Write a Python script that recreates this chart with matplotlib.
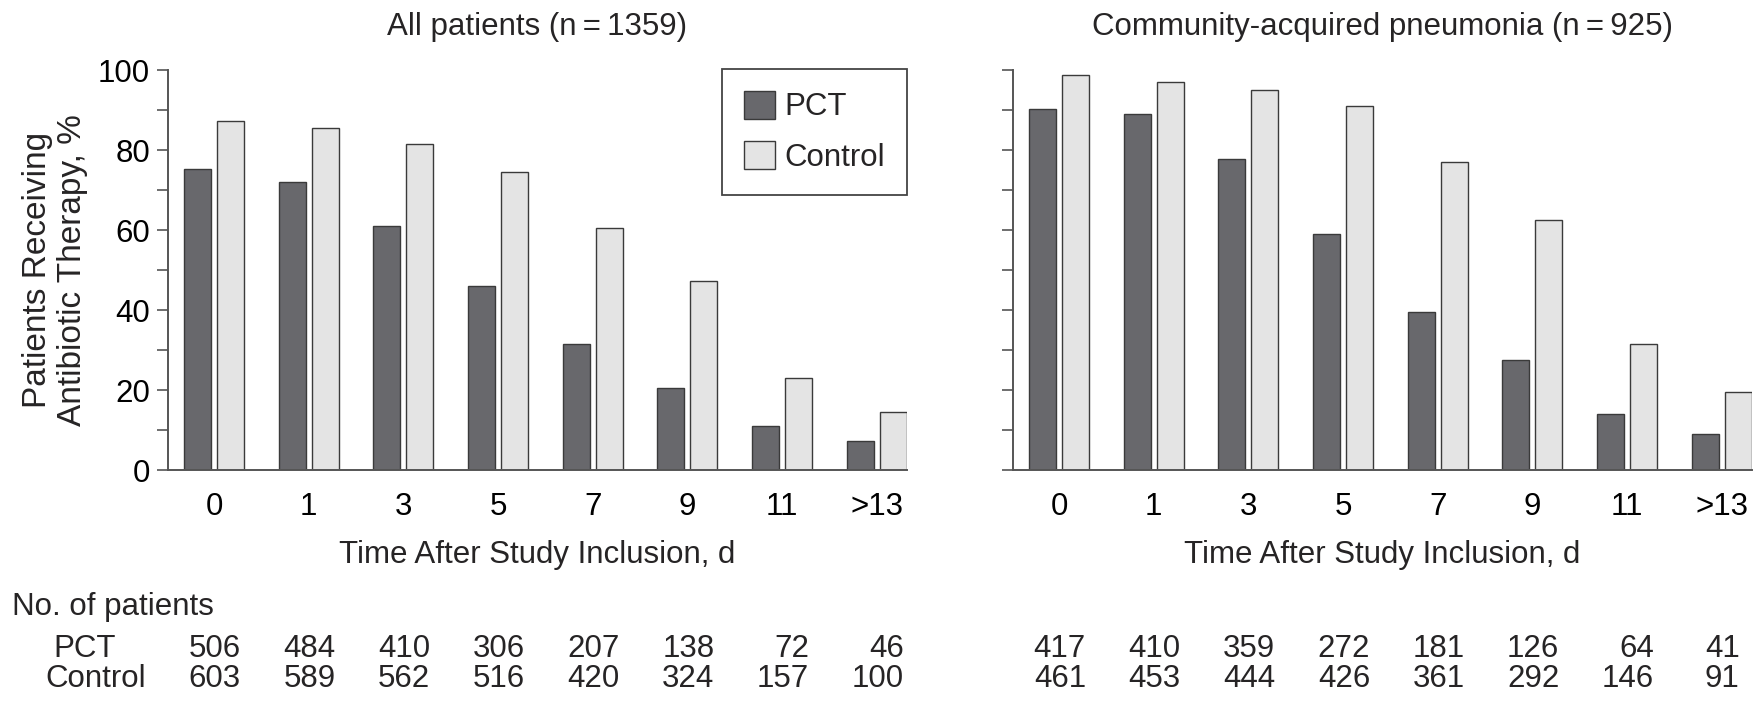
import numpy as np
import matplotlib
matplotlib.use("Agg")
import matplotlib.pyplot as plt
from matplotlib.transforms import blended_transform_factory

plt.rcParams['font.family'] = ['Liberation Sans', 'DejaVu Sans']
plt.rcParams['text.color'] = '#262425'

# data
days = ['0', '1', '3', '5', '7', '9', '11', '>13']

all_pct = [75.3, 72.0, 61.1, 45.9, 31.4, 20.6, 11.1, 7.2]
all_ctrl = [87.2, 85.4, 81.4, 74.4, 60.6, 47.3, 23.0, 14.6]
cap_pct = [90.3, 89.0, 77.7, 59.1, 39.5, 27.6, 14.1, 9.1]
cap_ctrl = [98.7, 96.9, 94.9, 91.1, 76.9, 62.5, 31.6, 19.4]

all_n_pct = [506, 484, 410, 306, 207, 138, 72, 46]
all_n_ctrl = [603, 589, 562, 516, 420, 324, 157, 100]
cap_n_pct = [417, 410, 359, 272, 181, 126, 64, 41]
cap_n_ctrl = [461, 453, 444, 426, 361, 292, 146, 91]

titles = ['All patients (n\u2009=\u20091359)', 'Community-acquired pneumonia (n\u2009=\u2009925)']

W, H = 1765, 701
FS = 22.5
DARK = '#68686c'
LIGHT = '#e4e4e4'
EDGE = '#3a3a3a'
SPINE = '#555555'

fig = plt.figure(figsize=(W / 100, H / 100), dpi=100)

x = np.arange(len(days))
bw = 0.285
off = 0.175

panels = [
    (168, all_pct, all_ctrl, all_n_pct, all_n_ctrl),
    (1013, cap_pct, cap_ctrl, cap_n_pct, cap_n_ctrl),
]

for i, (left_px, pct, ctrl, npct, nctrl) in enumerate(panels):
    ax = fig.add_axes([left_px / W, (H - 470) / H, 739 / W, 400 / H])
    ax.bar(x - off, pct, bw, color=DARK, edgecolor=EDGE, linewidth=1.0, label='PCT')
    ax.bar(x + off, ctrl, bw, color=LIGHT, edgecolor=EDGE, linewidth=1.0, label='Control')
    ax.set_xlim(-0.486, 7.32)
    ax.set_ylim(0, 100)
    for s in ['top', 'right']:
        ax.spines[s].set_visible(False)
    for s in ['left', 'bottom']:
        ax.spines[s].set_color(SPINE)
        ax.spines[s].set_linewidth(1.4)
    ax.set_yticks(np.arange(0, 101, 10))
    ax.set_yticklabels([str(v) if v % 20 == 0 else '' for v in range(0, 101, 10)] if i == 0 else [])
    ax.tick_params(axis='y', direction='out', length=8, width=1.2, color=SPINE,
                   labelsize=FS, pad=5)
    ax.set_xticks(x)
    ax.set_xticklabels(days)
    ax.tick_params(axis='x', length=0, labelsize=FS, pad=16)

    cx = (left_px + 739 / 2) / W
    fig.text(cx, 1 - 35 / H, titles[i], ha='center', va='baseline', fontsize=FS)
    fig.text(cx, 1 - 563 / H, 'Time After Study Inclusion, d', ha='center', va='baseline', fontsize=FS)

    # patient count table under each panel
    tr = blended_transform_factory(ax.transData, fig.transFigure)
    for k in range(len(days)):
        w = max(len(str(npct[k])), len(str(nctrl[k])))
        xr = k + 0.095 * w
        fig.text(xr, 1 - 657 / H, str(npct[k]), ha='right', va='baseline', fontsize=FS, transform=tr)
        fig.text(xr, 1 - 687 / H, str(nctrl[k]), ha='right', va='baseline', fontsize=FS, transform=tr)

    if i == 0:
        leg = ax.legend(loc='upper right', bbox_to_anchor=(1.0, 1.003), borderaxespad=0,
                        fontsize=FS, handlelength=1.0, handleheight=1.0, handletextpad=0.3,
                        labelspacing=0.6, borderpad=0.7, fancybox=False,
                        edgecolor='#444444', framealpha=1)
        leg.get_frame().set_linewidth(1.3)

fig.text(55 / W, 1 - 270 / H, 'Patients Receiving\nAntibiotic Therapy, %', rotation=90,
         ha='center', va='center', fontsize=24, linespacing=1.2)

fig.text(12 / W, 1 - 615 / H, 'No. of patients', ha='left', va='baseline', fontsize=FS)
fig.text(53 / W, 1 - 657 / H, 'PCT', ha='left', va='baseline', fontsize=FS)
fig.text(45 / W, 1 - 687 / H, 'Control', ha='left', va='baseline', fontsize=FS)

fig.savefig('out.png', dpi=100)
